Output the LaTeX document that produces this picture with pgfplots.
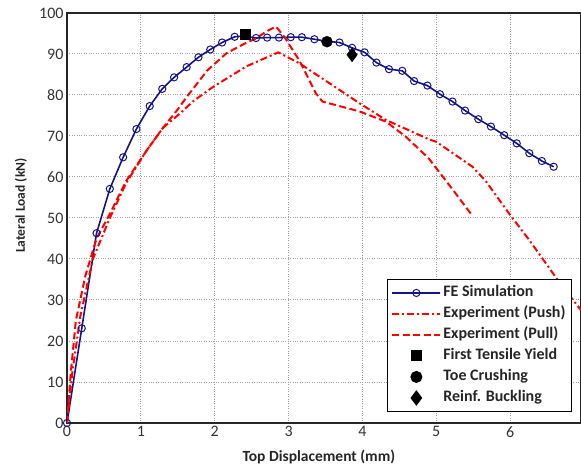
\documentclass[border=0pt]{standalone}
\usepackage{pgfplots}
\pgfplotsset{compat=1.18}
\usepackage{fontspec}
\setmainfont{Carlito}
\definecolor{feblue}{RGB}{20,20,135}
\begin{document}
\begin{tikzpicture}
\begin{axis}[
  scale only axis,
  width=514pt, height=410pt,
  xmin=0, xmax=6.96, ymin=0, ymax=100,
  xtick={0,1,2,3,4,5,6}, ytick={0,10,...,100},
  grid=major,
  grid style={dotted, gray!75, line width=1pt},
  axis line style={line width=1.1pt, black!85},
  tick style={draw=none},
  ticklabel style={font=\fontsize{16}{16}\selectfont, text=black!80},
  /pgf/number format/assume math mode=true,
  xlabel={\textbf{Top Displacement (mm)}},
  ylabel={\textbf{Lateral Load (kN)}},
  xlabel style={font=\fontsize{15.5}{15.5}\selectfont, text=black!85, at={(axis description cs:0.49,0)}, anchor=center, yshift=-34pt},
  ylabel style={font=\fontsize{13.5}{13.5}\selectfont, text=black!85, at={(axis description cs:0,0.53)}, anchor=center, rotate=0, yshift=46pt},
  legend style={at={(rel axis cs:0.9825,0.027)}, anchor=south east,
    font=\fontsize{16}{18}\selectfont\bfseries, draw=black, line width=1pt,
    row sep=2pt, inner sep=4pt,
    nodes={inner sep=2pt, text height=11.5pt, text depth=3.5pt, text=black!85}},
  legend cell align=left,
  legend image code/.code={\draw[mark repeat=2,mark phase=2,#1] plot coordinates {(0pt,0pt) (24pt,0pt) (48pt,0pt)};},
]
\coordinate (SW) at (rel axis cs:0,0);
\coordinate (NE) at (rel axis cs:1,1);
\addplot[feblue, line width=1.6pt, mark=o, mark size=3.6pt, mark options={solid, line width=1pt}] coordinates {
(0,0) (0.20,23.1) (0.40,46.3) (0.58,57.1) (0.76,64.8) (0.94,71.7) (1.12,77.3)
(1.29,81.5) (1.45,84.3) (1.62,86.8) (1.78,89.2) (1.94,91.1) (2.10,92.8)
(2.27,94.2) (2.41,94.4) (2.56,93.9) (2.71,94.0) (2.87,94.0) (3.03,94.1) (3.18,94.1)
(3.35,93.6) (3.52,93.1) (3.69,92.8) (3.86,91.5) (4.03,90.4) (4.19,87.9) (4.36,86.3)
(4.54,85.9) (4.70,83.4) (4.88,82.3) (5.05,80.2) (5.22,78.4) (5.39,76.2)
(5.57,74.1) (5.74,72.3) (5.92,70.2) (6.09,68.2) (6.26,65.8) (6.43,63.9) (6.59,62.5)
};
\addlegendentry{FE Simulation}
\addplot[red, line width=2pt, dash pattern=on 7pt off 3pt on 2pt off 3pt] coordinates {
(0,0) (0.07,12) (0.18,26) (0.35,40) (0.58,50) (0.8,58.5) (1.08,66.5) (1.3,72)
(1.53,75.5) (1.71,78.5) (1.98,82) (2.43,87) (2.86,90.4) (3.15,87.7) (3.96,78)
(4.32,73.9) (4.9,69.2) (5.0,68.6) (5.49,62.5) (5.67,59) (5.99,51) (6.26,44.6)
(6.68,34) (6.96,27.5)
};
\addlegendentry{Experiment (Push)}
\addplot[red, line width=2pt, dash pattern=on 7pt off 3.5pt] coordinates {
(0,0) (0.05,12) (0.12,25) (0.25,36) (0.4,45) (0.58,51) (0.8,59) (1.08,66.5)
(1.3,72) (1.5,76.5) (1.62,79.5) (1.9,86) (2.16,90.2) (2.4,92.5) (2.56,93.8)
(2.7,95.5) (2.83,96.7) (2.95,94) (3.15,88.3) (3.37,80.4) (3.46,78.4) (3.96,76)
(4.32,73.5) (4.59,69.8) (4.9,64.5) (5.22,57) (5.47,51)
};
\addlegendentry{Experiment (Pull)}
\addplot[only marks, mark=square*, mark size=5pt, black] coordinates {(2.41,94.9)};
\addlegendentry{First Tensile Yield}
\addplot[only marks, mark=*, mark size=5.5pt, black] coordinates {(3.52,93.0)};
\addlegendentry{Toe Crushing}
\addplot[only marks, mark=diamond*, mark size=7pt, black] coordinates {(3.86,89.8)};
\addlegendentry{Reinf. Buckling}
\end{axis}
\pgfresetboundingbox
\path (SW) ++(-67pt,-43pt) coordinate (BL);
\path (NE) ++(0pt,13pt) coordinate (TR);
\useasboundingbox (BL) rectangle (TR);
\end{tikzpicture}
\end{document}
